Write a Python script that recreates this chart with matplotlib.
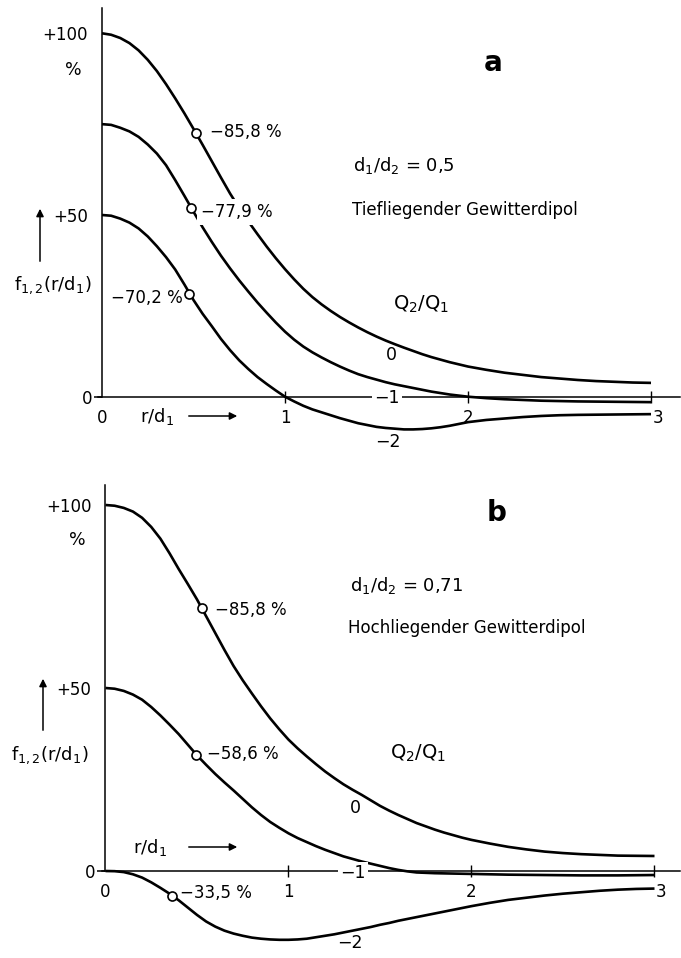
import matplotlib
matplotlib.use("Agg")
import matplotlib.pyplot as plt
from matplotlib.patches import FancyArrowPatch
import matplotlib.transforms as mtransforms

plt.rcParams['font.family'] = ['DejaVu Sans']
plt.rcParams['mathtext.fontset'] = 'dejavusans'
plt.rcParams['mathtext.default'] = 'regular'

# ---------------- data ----------------
r = [0.00, 0.05, 0.10, 0.15, 0.20, 0.25, 0.30, 0.35, 0.40, 0.45,
     0.50, 0.55, 0.60, 0.65, 0.70, 0.75, 0.80, 0.85, 0.90, 0.95,
     1.00, 1.05, 1.10, 1.15, 1.20, 1.25, 1.30, 1.35, 1.40, 1.45,
     1.50, 1.55, 1.60, 1.65, 1.70, 1.75, 1.80, 1.85, 1.90, 1.95,
     2.00, 2.10, 2.20, 2.30, 2.40, 2.50, 2.60, 2.70, 2.80, 2.90, 3.00]

# panel a: d1/d2 = 0,5  (Q2/Q1 = 0, -1, -2)
a_q0 = [100.0, 99.6, 98.7, 97.3, 95.3, 92.7, 89.6, 86.0, 82.1, 78.0,
        73.7, 69.3, 64.8, 60.3, 55.9, 51.9, 48.2, 44.7, 41.3, 38.1,
        35.1, 32.3, 29.7, 27.4, 25.4, 23.6, 21.95, 20.45, 19.05, 17.75,
        16.55, 15.45, 14.45, 13.5, 12.6, 11.7, 10.9, 10.2, 9.5, 8.9,
        8.3, 7.4, 6.6, 6.0, 5.4, 5.0, 4.6, 4.3, 4.1, 3.9, 3.8]
a_q1 = [75.0, 74.8, 74.0, 73.0, 71.5, 69.4, 66.9, 63.7, 59.6, 55.3,
        50.9, 46.6, 42.6, 38.8, 35.3, 32.0, 28.9, 25.9, 23.1, 20.4,
        17.9, 15.7, 13.8, 12.2, 10.8, 9.5, 8.3, 7.2, 6.2, 5.4,
        4.7, 4.0, 3.4, 2.9, 2.4, 1.9, 1.4, 1.0, 0.6, 0.3,
        0.0, -0.4, -0.7, -0.9, -1.1, -1.2, -1.3, -1.35, -1.4, -1.45, -1.5]
a_q2 = [50.0, 49.8, 49.0, 47.9, 46.3, 44.1, 41.4, 38.4, 35.0, 30.9,
        26.6, 22.8, 19.4, 15.9, 12.8, 10.0, 7.6, 5.4, 3.5, 1.7,
        0.0, -1.3, -2.5, -3.5, -4.3, -5.1, -5.9, -6.6, -7.3, -7.8,
        -8.3, -8.6, -8.8, -9.0, -9.0, -8.9, -8.7, -8.4, -8.0, -7.5,
        -7.0, -6.4, -6.0, -5.6, -5.3, -5.1, -5.0, -4.95, -4.9, -4.85, -4.8]
a_mark_x = [0.514, 0.485, 0.477]
a_mark_y = [72.6, 52.0, 28.3]
a_mark_lbl = ["\u221285,8 %", "\u221277,9 %", "\u221270,2 %"]

# panel b: d1/d2 = 0,71
b_q0 = [100.0, 99.8, 99.2, 98.2, 96.5, 94.0, 90.8, 86.8, 82.5, 78.4,
        74.2, 69.6, 65.0, 60.4, 56.0, 52.1, 48.5, 45.0, 41.7, 38.7,
        35.9, 33.5, 31.3, 29.2, 27.2, 25.4, 23.7, 22.2, 20.8, 19.3,
        17.8, 16.5, 15.3, 14.2, 13.1, 12.2, 11.3, 10.5, 9.8, 9.1,
        8.5, 7.5, 6.6, 5.9, 5.3, 4.9, 4.6, 4.4, 4.2, 4.15, 4.1]
b_q1 = [50.0, 49.8, 49.2, 48.2, 46.8, 44.8, 42.5, 40.0, 37.4, 34.5,
        31.6, 29.0, 26.5, 24.2, 22.0, 19.7, 17.4, 15.3, 13.4, 11.8,
        10.3, 9.0, 7.9, 6.8, 5.8, 4.9, 4.0, 3.3, 2.6, 2.0,
        1.4, 0.8, 0.3, -0.1, -0.4, -0.5, -0.6, -0.65, -0.7, -0.75,
        -0.8, -0.9, -1.0, -1.05, -1.1, -1.15, -1.2, -1.2, -1.2, -1.15, -1.1]
b_q2 = [0.0, -0.05, -0.3, -0.9, -1.8, -3.1, -4.6, -6.2, -8.0, -10.0,
        -12.0, -13.8, -15.2, -16.3, -17.1, -17.7, -18.2, -18.5, -18.7, -18.8,
        -18.8, -18.7, -18.5, -18.1, -17.7, -17.3, -16.8, -16.3, -15.8, -15.3,
        -14.7, -14.2, -13.6, -13.1, -12.6, -12.1, -11.6, -11.1, -10.6, -10.1,
        -9.6, -8.7, -7.9, -7.3, -6.7, -6.2, -5.8, -5.4, -5.1, -4.9, -4.8]
b_mark_x = [0.528, 0.496, 0.365]
b_mark_y = [71.9, 31.7, -6.7]
b_mark_lbl = ["\u221285,8 %", "\u221258,6 %", "\u221233,5 %"]

x_ticks = [0, 1, 2, 3]
x_ticklabels = ["0", "1", "2", "3"]
y_ticks = [0, 50, 100]
y_ticklabels = ["0", "+50", "+100"]
curve_labels = ["0", "\u22121", "\u22122"]

# ---------------- layout ----------------
W, H = 681, 958
fig = plt.figure(figsize=(W / 100, H / 100), dpi=100)
fig.patch.set_facecolor('white')


def fx(px):
    return px / W


def fy(py):
    return 1 - py / H


def ftext(px, py, s, **kw):
    kw.setdefault('ha', 'left')
    kw.setdefault('va', 'center')
    kw.setdefault('fontsize', 12)
    return fig.text(fx(px), fy(py), s, **kw)


def farrow(p1, p2):
    a = FancyArrowPatch((fx(p1[0]), fy(p1[1])), (fx(p2[0]), fy(p2[1])),
                        transform=fig.transFigure, arrowstyle='-|>',
                        mutation_scale=11, lw=1.1, color='black')
    fig.add_artist(a)


def make_panel(top, bot, x0, ux, y0, uy, ytop):
    ax = fig.add_axes([0, 1 - bot / H, 1, (bot - top) / H])
    ax.set_xlim(-x0 / ux, (W - x0) / ux)
    ax.set_ylim((y0 - bot) / uy, (y0 - top) / uy)
    ax.patch.set_alpha(0)
    for s in ['top', 'right']:
        ax.spines[s].set_visible(False)
    ax.spines['left'].set_position(('data', 0))
    ax.spines['bottom'].set_position(('data', 0))
    ax.spines['left'].set_bounds(0, ytop)
    ax.spines['bottom'].set_bounds(-0.02, (W - 1 - x0) / ux)
    for s in ['left', 'bottom']:
        ax.spines[s].set_linewidth(1.1)
    ax.set_xticks(x_ticks)
    ax.set_xticklabels(x_ticklabels, fontsize=12)
    ax.set_yticks(y_ticks)
    ax.set_yticklabels(y_ticklabels, fontsize=12)
    ax.tick_params(axis='x', direction='inout', length=9, width=1.0, pad=4)
    ax.tick_params(axis='y', direction='out', length=6, width=1.1, pad=1)
    xt = ax.xaxis.get_major_ticks()
    xt[0].tick1line.set_visible(False)
    yt = ax.yaxis.get_major_ticks()
    for t in yt[1:]:
        t.tick1line.set_visible(False)
        t.set_pad(4)
    lab3 = ax.get_xticklabels()[3]
    lab3.set_transform(lab3.get_transform() +
                       mtransforms.ScaledTranslation(7 / 100, 0, fig.dpi_scale_trans))
    return ax


line_kw = dict(color='black', lw=1.9, solid_capstyle='butt',
               solid_joinstyle='round', zorder=2)
mark_kw = dict(ls='none', marker='o', ms=6.5, mfc='white', mec='black', mew=1.2, zorder=4)

# ---------------- panel a ----------------
axa = make_panel(0, 460, 102, 183, 396.7, 3.634, 107)
for ys in (a_q0, a_q1, a_q2):
    axa.plot(r, ys, **line_kw)
axa.plot(a_mark_x, a_mark_y, **mark_kw)

ftext(493, 63, "a", fontsize=20, fontweight='bold', ha='center')
ftext(353, 166, "d$_1$/d$_2$ = 0,5", fontsize=13)
ftext(352, 210, "Tiefliegender Gewitterdipol", fontsize=12)
ftext(73, 70, "%", fontsize=12.5, ha='center')
ftext(53, 285, "f$_{1,2}$(r/d$_1$)", fontsize=13, ha='center')
farrow((40, 264), (40, 206))
ftext(140, 416, "r/d$_1$", fontsize=13)
farrow((186, 416), (240, 416))
ftext(210, 132, a_mark_lbl[0], fontsize=12)
ftext(201, 212, a_mark_lbl[1], fontsize=12,
      bbox=dict(facecolor='white', edgecolor='none', pad=3), zorder=3)
ftext(183, 298, a_mark_lbl[2], fontsize=12, ha='right')
ftext(393, 304, "Q$_2$/Q$_1$", fontsize=14)
ftext(391, 355, curve_labels[0], fontsize=12.5, ha='center')
ftext(387, 398, curve_labels[1], fontsize=12.5, ha='center',
      bbox=dict(facecolor='white', edgecolor='none', pad=1.5), zorder=3)
ftext(388, 442, curve_labels[2], fontsize=12.5, ha='center')

# ---------------- panel b ----------------
axb = make_panel(470, 958, 105.5, 183, 871, 3.66, 105.5)
for ys in (b_q0, b_q1, b_q2):
    axb.plot(r, ys, **line_kw)
axb.plot(b_mark_x, b_mark_y, **mark_kw)

ftext(497, 513, "b", fontsize=20, fontweight='bold', ha='center')
ftext(350, 585, "d$_1$/d$_2$ = 0,71", fontsize=13)
ftext(348, 628, "Hochliegender Gewitterdipol", fontsize=12)
ftext(77, 540, "%", fontsize=12.5, ha='center')
ftext(50, 755, "f$_{1,2}$(r/d$_1$)", fontsize=13, ha='center')
farrow((43, 733), (43, 676))
ftext(133, 848, "r/d$_1$", fontsize=13)
farrow((186, 847), (240, 847))
ftext(215, 610, b_mark_lbl[0], fontsize=12)
ftext(207, 754, b_mark_lbl[1], fontsize=12)
ftext(180, 893, b_mark_lbl[2], fontsize=12)
ftext(390, 753, "Q$_2$/Q$_1$", fontsize=14)
ftext(355, 808, curve_labels[0], fontsize=12.5, ha='center')
ftext(353, 873, curve_labels[1], fontsize=12.5, ha='center',
      bbox=dict(facecolor='white', edgecolor='none', pad=1.5), zorder=3)
ftext(350, 943, curve_labels[2], fontsize=12.5, ha='center')

fig.savefig("out.png", dpi=100, facecolor='white')
